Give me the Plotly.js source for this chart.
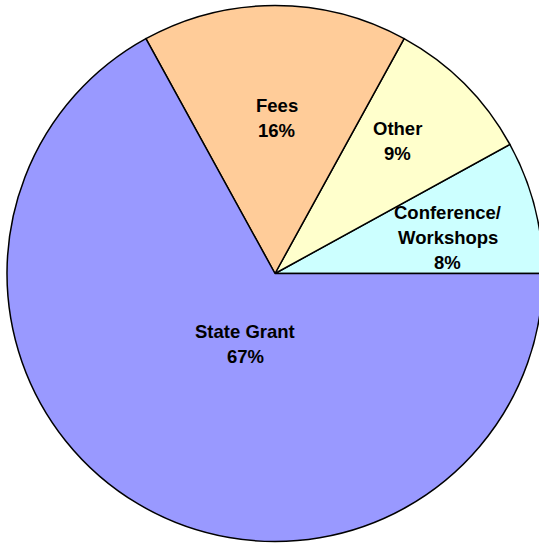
<!DOCTYPE html>
<html>
<head>
<meta charset="utf-8">
<script src="https://cdn.plot.ly/plotly-3.0.1.min.js"></script>
<style>
html, body { margin: 0; padding: 0; overflow: hidden; background: #ffffff; }
#chart { width: 550px; height: 544px; }
</style>
</head>
<body>
<div id="chart"></div>
<script>
const categories = ["Conference/<br>Workshops", "Other", "Fees", "State Grant"];
const shares = [8, 9, 16, 67];
const sliceColors = ["#CCFFFF", "#FFFFCC", "#FFCC99", "#9999FF"];
// label placement: distance from centre (fraction of radius) and angular nudge (deg) from the slice middle
const labelRadius = [0.658, 0.673, 0.581, 0.285];
const labelNudge = [-2.6, 2.1, -0.7, 7.5];

const W = 550, H = 544;
const M = { l: 7, r: 7, t: 5, b: 2 };
const plotW = W - M.l - M.r, plotH = H - M.t - M.b;
const R = Math.min(plotW, plotH) / 2;
const linePitch = 25;
const labelFont = { family: "Liberation Sans, Arial, sans-serif", size: 18.5, color: "#000000", weight: "bold" };

const total = shares.reduce((a, b) => a + b, 0);
// Plotly's counterclockwise mode ends the first slice at the rotation angle;
// shift so the first slice starts at 3 o'clock.
const rotation = 90 - 360 * shares[0] / total;

const annotations = [];
let cum = 0;
shares.forEach((v, i) => {
  const mid = ((cum + v / 2) / total * 360 + labelNudge[i]) * Math.PI / 180; // counterclockwise from 3 o'clock
  cum += v;
  const r = R * labelRadius[i];
  const px = 0.5 + r * Math.cos(mid) / plotW;
  const py = 0.5 + r * Math.sin(mid) / plotH;
  const pct = Math.round(v / total * 100) + "%";
  const lines = categories[i].split("<br>").concat([pct]);
  const n = lines.length;
  lines.forEach((t, k) => {
    annotations.push({
      xref: "paper", yref: "paper", x: px, y: py,
      xanchor: "center", yanchor: "middle",
      yshift: ((n - 1) / 2 - k) * linePitch,
      text: t, showarrow: false, font: labelFont
    });
  });
});

const trace = {
  type: "pie",
  labels: categories,
  values: shares,
  sort: false,
  direction: "counterclockwise",
  rotation: rotation,
  marker: { colors: sliceColors, line: { color: "#000000", width: 1.5 } },
  textinfo: "none",
  hoverinfo: "none",
  showlegend: false
};

const layout = {
  width: W,
  height: H,
  margin: M,
  paper_bgcolor: "#ffffff",
  plot_bgcolor: "#ffffff",
  showlegend: false,
  annotations: annotations
};

Plotly.newPlot("chart", [trace], layout, { staticPlot: true, displayModeBar: false });
</script>
</body>
</html>
